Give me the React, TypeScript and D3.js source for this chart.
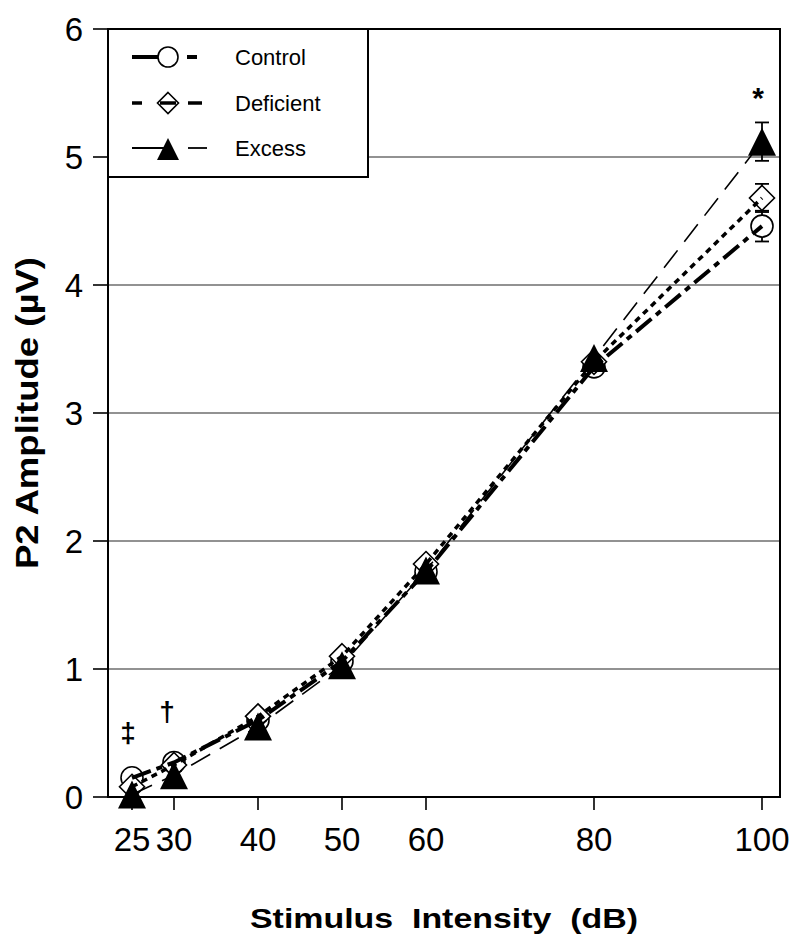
import React from "react";
import * as d3 from "d3";

const intensities = [25, 30, 40, 50, 60, 80, 100];
const controlValues = [0.15, 0.27, 0.6, 1.06, 1.76, 3.36, 4.46];
const deficientValues = [0.08, 0.25, 0.63, 1.1, 1.82, 3.4, 4.68];
const excessValues = [0.02, 0.17, 0.55, 1.03, 1.77, 3.43, 5.12];
// error bars at 100 dB
const errX = [100];
const controlErr = [0.12];
const deficientErr = [0.11];
const excessErr = [0.15];
const yTicks = [0, 1, 2, 3, 4, 5, 6];
const xTicks = [25, 30, 40, 50, 60, 80, 100];
const gridTicks = [1, 2, 3, 4, 5];
const seriesNames = ["Control", "Deficient", "Excess"];

const W = 800, H = 944;
const L = 108, R = 780, T = 29, B = 797;

export default function App() {
  const x = d3.scaleLinear().domain([22.143, 102.143]).range([L, R]);
  const y = d3.scaleLinear().domain([0, 6]).range([B, T]);
  const line = d3.line<number>().x((_, i) => x(intensities[i])).y((d) => y(d));

  const ctrlDash = "20,6,6,6";
  const defDash = "6,5";
  const excDash = "22,11";

  const tri = (cx: number, cy: number, s = 14) =>
    `M${cx},${cy - s}L${cx + s},${cy + s}L${cx - s},${cy + s}Z`;
  const diamond = (cx: number, cy: number, s = 12.5) =>
    `M${cx},${cy - s}L${cx + s},${cy}L${cx},${cy + s}L${cx - s},${cy}Z`;

  const errBar = (v: number, e: number, key: string) => {
    const cx = x(errX[0]);
    return (
      <g key={key} stroke="#000" strokeWidth={1.8}>
        <line x1={cx} x2={cx} y1={y(v - e)} y2={y(v + e)} />
        <line x1={cx - 7} x2={cx + 7} y1={y(v + e)} y2={y(v + e)} />
        <line x1={cx - 7} x2={cx + 7} y1={y(v - e)} y2={y(v - e)} />
      </g>
    );
  };

  const legendRows = [57, 103, 148];

  return (
    <svg width={W} height={H} style={{ position: "absolute", left: 0, top: 0, background: "#fff" }}
      fontFamily="'Liberation Sans', Arial, sans-serif">
      <rect x={0} y={0} width={W} height={H} fill="#fff" />
      {/* grid */}
      {gridTicks.map((t) => (
        <line key={t} x1={L} x2={R} y1={y(t)} y2={y(t)} stroke="#6e6e6e" strokeWidth={1.6} />
      ))}
      {/* y ticks */}
      {yTicks.map((t) => (
        <g key={t}>
          <line x1={L - 15} x2={L} y1={y(t)} y2={y(t)} stroke="#000" strokeWidth={1.6} />
          <text x={83} y={y(t)} dy="0.36em" textAnchor="end" fontSize={33}>{t}</text>
        </g>
      ))}
      {/* x ticks */}
      {xTicks.map((t) => (
        <g key={t}>
          <line x1={x(t)} x2={x(t)} y1={B} y2={B + 13} stroke="#000" strokeWidth={1.6} />
          <text x={x(t)} y={851} textAnchor="middle" fontSize={33}>{t}</text>
        </g>
      ))}
      {/* error bars */}
      {errBar(controlValues[6], controlErr[0], "ce")}
      {errBar(deficientValues[6], deficientErr[0], "de")}
      {errBar(excessValues[6], excessErr[0], "ee")}
      {/* open markers */}
      {controlValues.map((v, i) => (
        <circle key={"c" + i} cx={x(intensities[i])} cy={y(v)} r={11} fill="#fff" stroke="#000" strokeWidth={1.6} />
      ))}
      {deficientValues.map((v, i) => (
        <path key={"d" + i} d={diamond(x(intensities[i]), y(v))} fill="#fff" stroke="#000" strokeWidth={1.6} />
      ))}
      {/* lines */}
      <path d={line(excessValues) || ""} fill="none" stroke="#000" strokeWidth={1.6} strokeDasharray={excDash} />
      <path d={line(deficientValues) || ""} fill="none" stroke="#000" strokeWidth={3.5} strokeDasharray={defDash} />
      <path d={line(controlValues) || ""} fill="none" stroke="#000" strokeWidth={4} strokeDasharray={ctrlDash} />
      {/* filled markers */}
      {excessValues.map((v, i) => (
        <path key={"e" + i} d={tri(x(intensities[i]), y(v))} fill="#000" />
      ))}
      {/* frame */}
      <rect x={L} y={T} width={R - L} height={B - T} fill="none" stroke="#000" strokeWidth={2} />
      {/* legend */}
      <rect x={L} y={T} width={368 - L} height={177 - T} fill="#fff" stroke="#000" strokeWidth={2} />
      <g>
        <line x1={132} x2={168} y1={legendRows[0]} y2={legendRows[0]} stroke="#000" strokeWidth={4} />
        <circle cx={168} cy={legendRows[0]} r={10} fill="#fff" stroke="#000" strokeWidth={1.6} />
        <line x1={187} x2={197} y1={legendRows[0]} y2={legendRows[0]} stroke="#000" strokeWidth={4} />

        <line x1={132} x2={142} y1={legendRows[1]} y2={legendRows[1]} stroke="#000" strokeWidth={3.5} />
        <path d={diamond(168, legendRows[1], 10.5)} fill="#fff" stroke="#000" strokeWidth={1.6} />
        <line x1={160} x2={176} y1={legendRows[1]} y2={legendRows[1]} stroke="#000" strokeWidth={3.5} />
        <line x1={188} x2={202} y1={legendRows[1]} y2={legendRows[1]} stroke="#000" strokeWidth={3.5} />

        <line x1={132} x2={168} y1={legendRows[2]} y2={legendRows[2]} stroke="#000" strokeWidth={1.8} />
        <path d={tri(168, legendRows[2] + 1, 11)} fill="#000" />
        <line x1={188} x2={207} y1={legendRows[2]} y2={legendRows[2]} stroke="#000" strokeWidth={1.8} />
        {seriesNames.map((s, i) => (
          <text key={s} x={235} y={legendRows[i]} dy="0.36em" fontSize={22}>{s}</text>
        ))}
      </g>
      {/* annotations */}
      <text x={758} y={108} textAnchor="middle" fontSize={30} fontWeight="bold">*</text>
      <text x={128} y={742} textAnchor="middle" fontSize={28} fontWeight="bold">‡</text>
      <text x={167} y={721} textAnchor="middle" fontSize={28} fontWeight="bold">†</text>
      {/* axis titles */}
      <text x={444} y={928} textAnchor="middle" fontSize={27} fontWeight="bold"
        textLength={388} lengthAdjust="spacingAndGlyphs" style={{ whiteSpace: "pre" }}>
        {"Stimulus  Intensity  (dB)"}
      </text>
      <text transform={`translate(38,${(T + B) / 2}) rotate(-90)`} textAnchor="middle" fontSize={31} fontWeight="bold"
        textLength={312} lengthAdjust="spacingAndGlyphs">
        P2 Amplitude (µV)
      </text>
    </svg>
  );
}
